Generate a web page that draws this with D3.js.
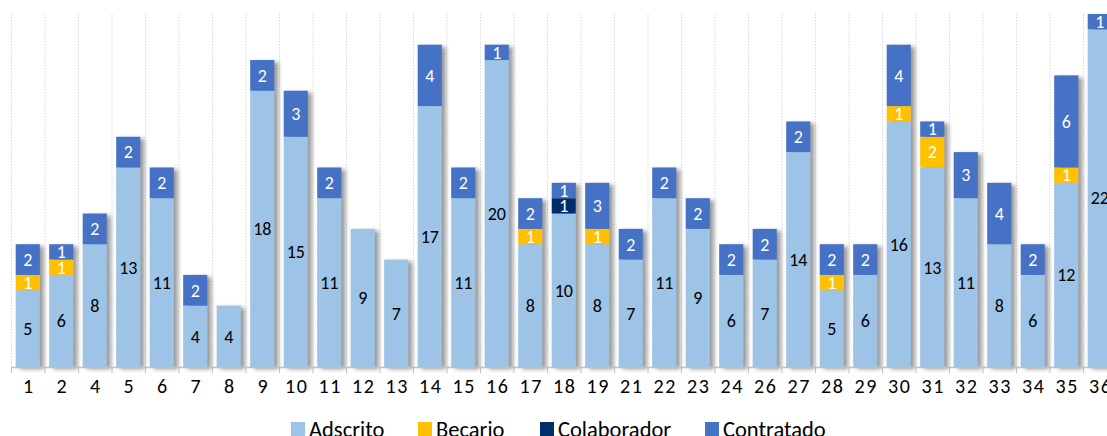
<!DOCTYPE html>
<html>
<head>
<meta charset="utf-8">
<script src="https://cdn.jsdelivr.net/npm/d3@7"></script>
<style>
  body { margin: 0; background: #fff; }
  svg { display: block; font-family: Carlito, Calibri, "Open Sans", sans-serif; }
</style>
</head>
<body>
<div id="chart"></div>
<script>
    var categories = ["1","2","4","5","6","7","8","9","10","11","12","13","14","15","16","17","18","19","21","22","23","24","26","27","28","29","30","31","32","33","34","35","36"];
    var adscrito = [5,6,8,13,11,4,4,18,15,11,9,7,17,11,20,8,10,8,7,11,9,6,7,14,5,6,16,13,11,8,6,12,22];
    var becario = [1,1,0,0,0,0,0,0,0,0,0,0,0,0,0,1,0,1,0,0,0,0,0,0,1,0,1,2,0,0,0,1,0];
    var colaborador = [0,0,0,0,0,0,0,0,0,0,0,0,0,0,0,0,1,0,0,0,0,0,0,0,0,0,0,0,0,0,0,0,0];
    var contratado = [2,1,2,2,2,2,0,2,3,2,0,0,4,2,1,2,1,3,2,2,2,2,2,2,2,2,4,1,3,4,2,6,1];
    var seriesNames = ["Adscrito", "Becario", "Colaborador", "Contratado"];
    var seriesColors = ["#9dc3e6", "#ffc000", "#002f6c", "#4472c4"];
    var labelColors = ["#000", "#fff", "#fff", "#fff"];

    var width = 1107, height = 436;
    var margin = {top: 14, left: 11};
    var step = 33.5;
    var baseline = 367;

    var table = categories.map(function(c, i) {
        return {key: c, Adscrito: adscrito[i], Becario: becario[i], Colaborador: colaborador[i], Contratado: contratado[i]};
    });

    var x = d3.scaleBand()
        .domain(categories)
        .range([margin.left, margin.left + step * categories.length])
        .paddingInner(0.28)
        .paddingOuter(0.14);

    var y = d3.scaleLinear()
        .domain([0, 23])
        .range([baseline, margin.top]);

    var color = d3.scaleOrdinal().domain(seriesNames).range(seriesColors);
    var textColor = d3.scaleOrdinal().domain(seriesNames).range(labelColors);

    var svg = d3.select("#chart").append("svg")
        .attr("width", width)
        .attr("height", height);

    var defs = svg.append("defs");
    var f = defs.append("filter").attr("id", "shadow")
        .attr("x", "-20%").attr("y", "-10%").attr("width", "160%").attr("height", "120%");
    f.append("feDropShadow")
        .attr("dx", 4).attr("dy", 2).attr("stdDeviation", 2)
        .attr("flood-color", "#7f7f7f").attr("flood-opacity", 0.8);

    // dotted vertical gridlines at category boundaries
    var bounds = d3.range(categories.length + 1).map(function(i) { return margin.left + step * i; });
    svg.append("g")
        .selectAll("line")
        .data(bounds)
        .enter().append("line")
        .attr("x1", d => d + 0.5).attr("x2", d => d + 0.5)
        .attr("y1", margin.top).attr("y2", baseline)
        .attr("stroke", "#d9d9d9")
        .attr("stroke-dasharray", "1.5,1.5");

    var stacked = d3.stack().keys(seriesNames)(table);

    var bars = svg.append("g")
        .selectAll("g")
        .data(table)
        .enter().append("g")
        .attr("filter", "url(#shadow)");

    bars.selectAll("rect")
        .data(function(d, i) {
            return stacked.map(function(s) { return {key: s.key, v: s[i], cat: d.key}; })
                .filter(function(s) { return s.v[1] - s.v[0] > 0; });
        })
        .enter().append("rect")
        .attr("x", d => x(d.cat))
        .attr("width", x.bandwidth())
        .attr("y", d => y(d.v[1]))
        .attr("height", d => y(d.v[0]) - y(d.v[1]))
        .attr("fill", d => color(d.key));

    // value labels
    var labels = [];
    stacked.forEach(function(s) {
        s.forEach(function(v, i) {
            var n = v[1] - v[0];
            if (n > 0) labels.push({key: s.key, cat: categories[i], v: v, n: n});
        });
    });
    svg.append("g")
        .selectAll("text")
        .data(labels)
        .enter().append("text")
        .attr("x", d => x(d.cat) + x.bandwidth() / 2)
        .attr("y", d => (y(d.v[0]) + y(d.v[1])) / 2)
        .attr("dy", "0.35em")
        .attr("text-anchor", "middle")
        .style("font-size", "18px")
        .attr("fill", d => textColor(d.key))
        .text(d => d.n);

    // x axis
    var axis = svg.append("g").attr("class", "x-axis");
    axis.append("line")
        .attr("x1", margin.left).attr("x2", margin.left + step * categories.length)
        .attr("y1", baseline + 0.5).attr("y2", baseline + 0.5)
        .attr("stroke", "#bfbfbf").attr("stroke-width", 1.5);
    axis.selectAll(".tick")
        .data(bounds)
        .enter().append("line")
        .attr("x1", d => d + 0.5).attr("x2", d => d + 0.5)
        .attr("y1", baseline).attr("y2", baseline + 6)
        .attr("stroke", "#bfbfbf");
    axis.selectAll("text")
        .data(categories)
        .enter().append("text")
        .attr("x", d => x(d) + x.bandwidth() / 2 + 1)
        .attr("y", 393)
        .attr("text-anchor", "middle")
        .style("font-size", "20px")
        .style("letter-spacing", "1.5px")
        .attr("fill", "#000")
        .text(d => d);

    // legend
    var legendX = [291, 418, 540, 705];
    var legend = svg.append("g")
        .selectAll("g")
        .data(seriesNames)
        .enter().append("g")
        .attr("transform", (d, i) => "translate(" + legendX[i] + ",422)");
    legend.append("rect")
        .attr("width", 14).attr("height", 14)
        .attr("fill", d => color(d));
    legend.append("text")
        .attr("x", 18).attr("y", 14.5)
        .style("font-size", "22.5px")
        .attr("fill", "#000")
        .text(d => d);
</script>
</body>
</html>
